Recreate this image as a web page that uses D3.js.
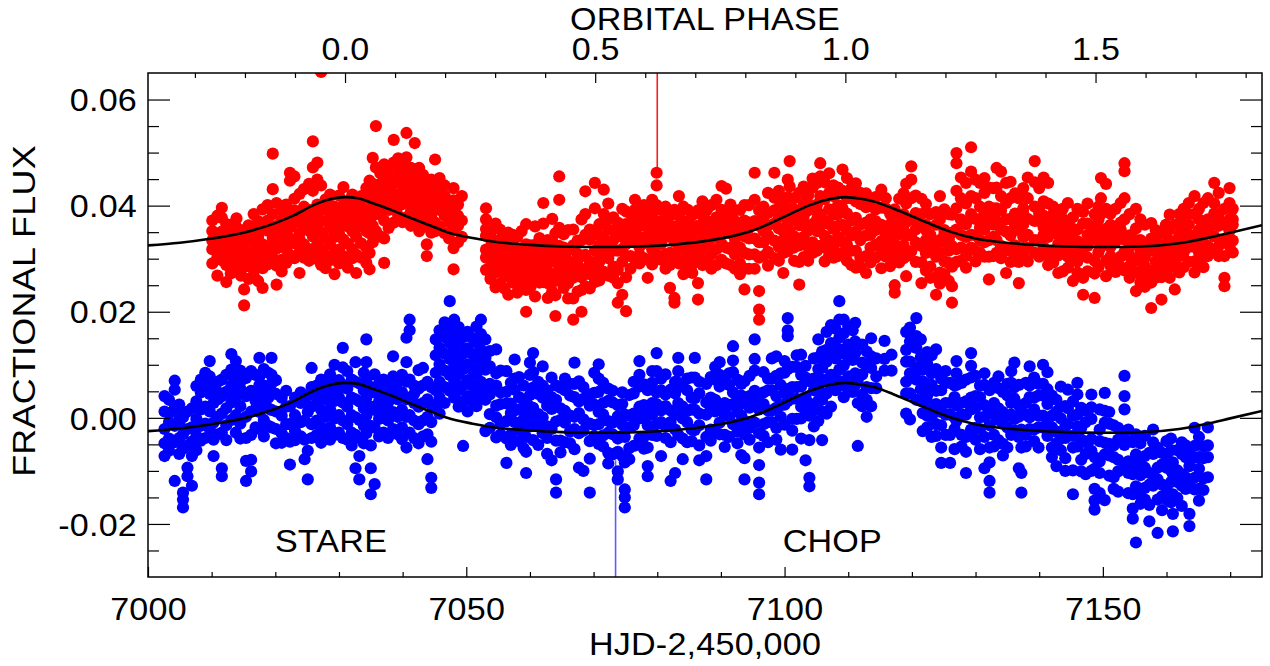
<!DOCTYPE html>
<html><head><meta charset="utf-8">
<script src="https://cdn.jsdelivr.net/npm/d3@7"></script>
<style>
body{margin:0;background:#fff}
svg{display:block}
text{font-family:"Liberation Sans",Arial,Helvetica,sans-serif;font-size:31px;fill:#000;letter-spacing:0.2px}
</style>
</head><body>
<svg id="c" width="1270" height="666"></svg>
<script>
// ---------- axis definitions ----------
const period = 78.6, epoch = 7030.95;
const hjdDomain = [7000, 7175];
const fluxDomain = [-0.03, 0.065];
const hjdMajor = [7000, 7050, 7100, 7150];
const hjdMinor = [7010,7020,7030,7040,7060,7070,7080,7090,7110,7120,7130,7140,7160,7170];
const fluxMajor = [-0.02, 0.00, 0.02, 0.04, 0.06];
const fluxMinor = [-0.025,-0.015,-0.01,-0.005,0.005,0.01,0.015,0.025,0.03,0.035,0.045,0.05,0.055];
const phaseMajor = [0.0, 0.5, 1.0, 1.5];
const phaseMinor = [-0.3,-0.2,-0.1,0.1,0.2,0.3,0.4,0.6,0.7,0.8,0.9,1.1,1.2,1.3,1.4,1.6,1.7,1.8];

// ---------- model curves ----------
const modelHjd = [7000,7005,7010,7015,7020,7023,7026,7028,7031,7033,7035,7038,7041,7044,7047,7051,7055,7059,7065,7071,7077,7083,7088,7092,7095,7098,7101,7104,7107,7109.5,7112,7114,7117,7120,7123,7126,7130,7134,7138,7144,7150,7156,7162,7166,7170,7175];
const modelRed = [.0325,.0330,.0338,.0349,.0367,.0382,.0401,.0410,.0416,.0414,.0406,.0393,.0378,.0364,.0350,.0339,.0331,.0327,.0323,.0322,.0323,.0327,.0334,.0343,.0353,.0368,.0385,.0401,.0412,.0416,.0413,.0408,.0395,.0380,.0365,.0351,.0338,.0331,.0327,.0323,.0322,.0323,.0329,.0338,.0349,.0363];
const modelBlue = [-.0025,-.0020,-.0012,-.0001,.0017,.0032,.0051,.0060,.0066,.0064,.0056,.0043,.0028,.0014,.0000,-.0011,-.0019,-.0023,-.0027,-.0028,-.0027,-.0023,-.0016,-.0007,.0003,.0018,.0035,.0051,.0062,.0066,.0063,.0058,.0045,.0030,.0015,.0001,-.0012,-.0019,-.0023,-.0027,-.0028,-.0027,-.0021,-.0012,-.0001,.0013];

// ---------- vertical markers ----------
const markers = [
  {hjd: 7080.0, lo: 0.046, hi: 0.066, color: "#ff1a1a", w: 1.6},
  {hjd: 7073.45, lo: -0.031, hi: -0.008, color: "#5c5cff", w: 1.6}
];

// ---------- annotations ----------
const labels = [
  {text: "STARE", hjd: 7028.75, flux: -0.0252},
  {text: "CHOP", hjd: 7107.5, flux: -0.0252}
];

// ---------- observations: [HJD, [fluxes in that night]] ----------
const redNights = [
[7010.1,[.0318,.0352,.0291,.0334,.0372]],
[7010.9,[.0302,.0343,.0381,.0318,.0268]],
[7011.6,[.0396,.0377,.0329,.0297,.0351]],
[7012.3,[.0256,.0288,.0322,.0341,.0365,.0307]],
[7013.0,[.0364,.0331,.0298,.0272,.0349]],
[7013.9,[.0376,.0345,.0312,.0281,.0323,.0359]],
[7014.6,[.0293,.0327,.0354,.0268,.0309]],
[7015.1,[.0212,.0242,.0284,.0318,.0347,.0302]],
[7015.8,[.0301,.0262,.0335,.0363,.0289]],
[7016.6,[.0314,.0352,.0384,.0279,.0331,.0268]],
[7017.3,[.0342,.0296,.0371,.0258,.0318]],
[7018.0,[.0245,.0282,.0327,.0361,.0393,.0306]],
[7018.8,[.0353,.0318,.0289,.0372,.0401]],
[7019.6,[.0498,.0431,.0384,.0338,.0301,.0326]],
[7020.2,[.0251,.0287,.0405,.0362,.0319,.0344]],
[7021.0,[.0372,.0334,.0298,.0391,.0353,.0276]],
[7021.7,[.0364,.0402,.0318,.0292,.0341]],
[7022.3,[.0462,.0447,.0382,.0338,.0307,.0359]],
[7023.0,[.0455,.0413,.0368,.0329,.0301,.0391]],
[7023.8,[.0273,.0312,.0348,.0381,.0422,.0336]],
[7024.5,[.0361,.0398,.0327,.0302,.0372,.0431]],
[7025.3,[.0441,.0392,.0353,.0318,.0296,.0371]],
[7025.9,[.0521,.0472,.0428,.0383,.0342,.0308]],
[7026.6,[.0481,.0449,.0402,.0361,.0328,.0299,.0381]],
[7027.2,[.0652,.0438,.0392,.0349,.0317,.0288]],
[7027.9,[.0412,.0371,.0338,.0306,.0282,.0393]],
[7028.6,[.0401,.0358,.0326,.0297,.0379,.0421]],
[7029.3,[.0271,.0309,.0341,.0368,.0398,.0352]],
[7030.0,[.0419,.0382,.0348,.0317,.0291,.0362]],
[7030.7,[.0435,.0401,.0369,.0336,.0305,.0388]],
[7031.4,[.0361,.0328,.0298,.0409,.0378,.0283]],
[7032.1,[.0392,.0352,.0318,.0421,.0371,.0301]],
[7032.7,[.0273,.0308,.0341,.0379,.0412,.0358]],
[7033.5,[.0398,.0362,.0329,.0302,.0418,.0381]],
[7034.3,[.0433,.0391,.0352,.0321,.0292,.0371]],
[7034.8,[.0280,.0311,.0348,.0382,.0413,.0447]],
[7035.3,[.0490,.0441,.0398,.0362,.0331,.0381]],
[7035.8,[.0550,.0472,.0428,.0391,.0352,.0409]],
[7036.5,[.0461,.0421,.0383,.0342,.0441,.0398]],
[7037.1,[.0292,.0338,.0372,.0408,.0449,.0478]],
[7037.8,[.0469,.0432,.0392,.0358,.0411,.0451]],
[7038.6,[.0524,.0481,.0442,.0401,.0368,.0422]],
[7039.3,[.0462,.0418,.0381,.0448,.0489,.0399]],
[7040.0,[.0478,.0442,.0403,.0369,.0428,.0461]],
[7040.6,[.0537,.0491,.0452,.0412,.0378,.0431]],
[7041.3,[.0471,.0428,.0389,.0449,.0408,.0362]],
[7041.9,[.0518,.0469,.0438,.0401,.0368,.0421]],
[7042.6,[.0452,.0411,.0381,.0352,.0432,.0471]],
[7043.2,[.0441,.0402,.0369,.0422,.0458,.0388]],
[7043.8,[.0327,.0305,.0361,.0398,.0431,.0379]],
[7044.5,[.0449,.0412,.0378,.0349,.0428,.0391]],
[7045.1,[.0487,.0438,.0402,.0368,.0421,.0352]],
[7045.8,[.0428,.0392,.0361,.0411,.0452]],
[7046.6,[.0419,.0381,.0348,.0398,.0438]],
[7047.3,[.0408,.0369,.0338,.0391]],
[7048.0,[.0433,.0410,.0386,.0355,.0320,.0280]],
[7048.7,[.0402,.0362,.0331,.0381]],
[7049.3,[.0418,.0372,.0341]],
[7053.1,[.0395,.0374,.0343,.0317,.0279,.0302,.0356]],
[7053.8,[.0348,.0321,.0284,.0262,.0301,.0337]],
[7054.6,[.0366,.0329,.0293,.0274,.0246,.0311]],
[7055.3,[.0336,.0312,.0277,.0253,.0294,.0323,.0355]],
[7056.0,[.0329,.0293,.0266,.0244,.0283,.0314]],
[7056.6,[.0232,.0271,.0305,.0331,.0349,.0286]],
[7057.3,[.0345,.0306,.0272,.0255,.0291,.0325]],
[7058.0,[.0318,.0287,.0264,.0236,.0273,.0309,.0341]],
[7058.7,[.0352,.0314,.0285,.0249,.0298,.0266]],
[7059.4,[.0200,.0241,.0276,.0299,.0327,.0365]],
[7060.1,[.0325,.0302,.0263,.0247,.0284,.0316]],
[7060.8,[.0361,.0326,.0289,.0267,.0229,.0305]],
[7061.5,[.0339,.0304,.0286,.0255,.0292,.0269,.0322]],
[7062.1,[.0405,.0366,.0319,.0293,.0256,.0305]],
[7062.8,[.0335,.0312,.0276,.0254,.0226,.0294]],
[7063.5,[.0375,.0333,.0295,.0271,.0238,.0314]],
[7064.0,[.0192,.0231,.0258,.0296,.0319,.0348]],
[7064.6,[.0455,.0411,.0358,.0324,.0284,.0261,.0305]],
[7065.3,[.0346,.0306,.0268,.0245,.0286,.0321]],
[7066.0,[.0354,.0315,.0278,.0254,.0225,.0296]],
[7066.8,[.0185,.0225,.0264,.0289,.0325,.0355]],
[7067.5,[.0334,.0297,.0274,.0238,.0285,.0309]],
[7068.1,[.0200,.0241,.0265,.0305,.0335,.0374]],
[7068.7,[.0427,.0384,.0345,.0307,.0281,.0248]],
[7069.4,[.0336,.0295,.0271,.0244,.0285,.0355]],
[7070.2,[.0443,.0395,.0351,.0315,.0277,.0256]],
[7070.9,[.0365,.0325,.0294,.0259,.0344,.0305]],
[7071.6,[.0430,.0384,.0339,.0311,.0275,.0365]],
[7072.3,[.0375,.0328,.0301,.0268,.0355,.0404]],
[7073.1,[.0354,.0315,.0285,.0264,.0335,.0378]],
[7073.8,[.0217,.0254,.0279,.0315,.0345,.0368]],
[7074.5,[.0394,.0355,.0318,.0294,.0232,.0341]],
[7075.1,[.0201,.0265,.0305,.0328,.0365,.0389]],
[7075.8,[.0385,.0344,.0305,.0281,.0355]],
[7076.5,[.0411,.0371,.0331,.0298,.0352,.0392]],
[7077.2,[.0362,.0322,.0291,.0341,.0381,.0308]],
[7077.9,[.0401,.0362,.0329,.0301,.0372]],
[7078.5,[.0264,.0298,.0331,.0361,.0392,.0342]],
[7079.2,[.0382,.0348,.0318,.0289,.0362,.0411]],
[7079.9,[.0462,.0438,.0401,.0368,.0338,.0308]],
[7080.6,[.0392,.0358,.0328,.0298,.0371,.0348]],
[7081.3,[.0372,.0341,.0308,.0281,.0352,.0398]],
[7082.0,[.0381,.0342,.0311,.0245,.0288,.0362]],
[7082.7,[.0217,.0226,.0301,.0332,.0361,.0392]],
[7083.4,[.0418,.0381,.0348,.0318,.0291,.0362]],
[7084.1,[.0398,.0361,.0328,.0298,.0271,.0342]],
[7084.8,[.0371,.0338,.0308,.0281,.0352,.0392]],
[7085.5,[.0382,.0348,.0318,.0289,.0273,.0362]],
[7086.4,[.0223,.0254,.0301,.0331,.0362,.0391]],
[7087.1,[.0381,.0348,.0318,.0288,.0361,.0408]],
[7087.8,[.0392,.0358,.0328,.0298,.0341,.0372]],
[7088.5,[.0401,.0368,.0338,.0308,.0281,.0358]],
[7089.3,[.0411,.0378,.0348,.0318,.0288,.0341]],
[7090.1,[.0437,.0392,.0358,.0328,.0298,.0372]],
[7090.8,[.0432,.0388,.0351,.0321,.0291,.0368]],
[7091.5,[.0381,.0348,.0318,.0288,.0361,.0402]],
[7092.2,[.0371,.0338,.0308,.0281,.0328,.0391]],
[7093.0,[.0392,.0352,.0321,.0291,.0362,.0271]],
[7093.7,[.0242,.0281,.0311,.0342,.0372,.0401]],
[7094.4,[.0401,.0368,.0338,.0308,.0281,.0358]],
[7095.3,[.0462,.0411,.0371,.0338,.0308,.0281]],
[7096.0,[.0239,.0204,.0185,.0302,.0331,.0362,.0391]],
[7096.7,[.0398,.0372,.0331,.0305,.0352,.0384]],
[7097.4,[.0424,.0386,.0344,.0313,.0287,.0362]],
[7098.4,[.0462,.0415,.0366,.0334,.0301,.0391]],
[7099.1,[.0396,.0357,.0322,.0296,.0378,.0428]],
[7099.8,[.0389,.0352,.0334,.0273,.0311,.0409]],
[7100.5,[.0449,.0416,.0372,.0343,.0314,.0367]],
[7100.8,[.0484,.0436,.0394,.0352,.0325]],
[7101.5,[.0414,.0374,.0342,.0321,.0296,.0393]],
[7102.3,[.0251,.0294,.0325,.0363,.0387,.0424]],
[7103.0,[.0436,.0404,.0362,.0341,.0303,.0379]],
[7103.7,[.0419,.0391,.0353,.0322,.0296,.0403]],
[7104.4,[.0434,.0396,.0365,.0331,.0311,.0451]],
[7105.1,[.0443,.0402,.0374,.0352,.0315,.0388]],
[7105.6,[.0480,.0455,.0418,.0384,.0361,.0324]],
[7106.3,[.0444,.0412,.0372,.0343,.0321,.0295]],
[7107.0,[.0461,.0424,.0393,.0365,.0334,.0306]],
[7107.7,[.0418,.0383,.0356,.0323,.0302,.0438]],
[7108.4,[.0434,.0401,.0362,.0341,.0305,.0384]],
[7109.1,[.0468,.0428,.0395,.0364,.0332,.0311]],
[7109.8,[.0452,.0414,.0385,.0353,.0326,.0296]],
[7110.5,[.0414,.0372,.0344,.0315,.0288,.0433]],
[7111.2,[.0283,.0315,.0351,.0377,.0408,.0442]],
[7111.9,[.0403,.0364,.0335,.0302,.0284,.0424]],
[7112.8,[.0273,.0305,.0344,.0368,.0397,.0423]],
[7113.5,[.0409,.0374,.0345,.0321,.0293,.0358]],
[7114.3,[.0393,.0354,.0326,.0302,.0371,.0416]],
[7115.2,[.0430,.0396,.0364,.0333,.0312,.0282]],
[7115.9,[.0395,.0355,.0324,.0304,.0346,.0414]],
[7116.6,[.0384,.0343,.0314,.0286,.0365,.0332]],
[7117.3,[.0250,.0236,.0304,.0327,.0356,.0393]],
[7118.0,[.0413,.0375,.0346,.0315,.0293,.0361]],
[7118.7,[.0423,.0384,.0354,.0325,.0301,.0368]],
[7119.1,[.0267,.0305,.0343,.0369,.0404,.0441]],
[7119.9,[.0474,.0449,.0414,.0375,.0345,.0314]],
[7120.6,[.0419,.0386,.0355,.0331,.0294,.0372]],
[7121.5,[.0254,.0293,.0324,.0361,.0384,.0413]],
[7122.2,[.0403,.0364,.0335,.0311,.0278,.0354]],
[7122.9,[.0384,.0345,.0321,.0285,.0264,.0334]],
[7123.8,[.0232,.0265,.0304,.0328,.0364,.0388]],
[7124.4,[.0418,.0374,.0335,.0311,.0274,.0253]],
[7125.1,[.0393,.0354,.0331,.0295,.0271,.0346]],
[7125.8,[.0384,.0345,.0315,.0292,.0258,.0336]],
[7126.3,[.0217,.0248,.0285,.0324,.0349,.0383]],
[7127.0,[.0499,.0480,.0428,.0395,.0355,.0318,.0294]],
[7127.7,[.0453,.0414,.0374,.0345,.0321,.0296]],
[7128.5,[.0443,.0404,.0365,.0341,.0305,.0283]],
[7129.3,[.0510,.0464,.0418,.0384,.0345,.0321]],
[7130.0,[.0449,.0414,.0375,.0344,.0315,.0295]],
[7130.7,[.0443,.0398,.0371,.0335,.0311,.0359]],
[7131.4,[.0424,.0385,.0355,.0331,.0304,.0452]],
[7132.1,[.0261,.0304,.0335,.0371,.0398,.0434]],
[7132.8,[.0433,.0395,.0364,.0341,.0305,.0383]],
[7133.3,[.0471,.0434,.0395,.0371,.0335,.0311]],
[7134.0,[.0464,.0418,.0391,.0355,.0324,.0301]],
[7134.8,[.0443,.0405,.0374,.0351,.0315,.0273]],
[7135.5,[.0445,.0414,.0375,.0344,.0321,.0294]],
[7136.2,[.0423,.0385,.0361,.0325,.0304,.0368]],
[7136.8,[.0254,.0294,.0318,.0354,.0378,.0414]],
[7137.5,[.0433,.0395,.0365,.0341,.0305,.0385]],
[7138.2,[.0453,.0414,.0375,.0345,.0321,.0295]],
[7139.3,[.0484,.0444,.0398,.0371,.0335,.0311]],
[7140.0,[.0433,.0394,.0371,.0335,.0304,.0385]],
[7140.7,[.0453,.0408,.0381,.0345,.0321,.0359]],
[7141.4,[.0443,.0404,.0365,.0341,.0305,.0288]],
[7142.2,[.0384,.0352,.0314,.0293,.0365,.0398]],
[7143.0,[.0273,.0306,.0328,.0367,.0389,.0345]],
[7143.7,[.0375,.0334,.0312,.0276,.0356,.0394]],
[7144.5,[.0405,.0364,.0342,.0304,.0283,.0326]],
[7145.3,[.0258,.0296,.0318,.0356,.0378,.0336]],
[7146.0,[.0394,.0355,.0333,.0295,.0274,.0314]],
[7146.9,[.0232,.0264,.0306,.0328,.0366,.0388]],
[7147.6,[.0404,.0366,.0324,.0302,.0276,.0345]],
[7148.7,[.0226,.0272,.0296,.0336,.0357,.0384]],
[7149.3,[.0398,.0373,.0334,.0312,.0284,.0355]],
[7149.7,[.0452,.0414,.0384,.0344,.0322]],
[7150.5,[.0441,.0394,.0356,.0334,.0296,.0267]],
[7151.2,[.0385,.0344,.0322,.0286,.0304,.0364]],
[7152.0,[.0394,.0354,.0332,.0294,.0275,.0345]],
[7152.8,[.0368,.0343,.0304,.0284,.0355,.0405]],
[7153.4,[.0480,.0465,.0414,.0374,.0336,.0313,.0278]],
[7154.2,[.0384,.0344,.0322,.0286,.0264,.0305]],
[7155.2,[.0239,.0274,.0296,.0335,.0357,.0394]],
[7155.9,[.0374,.0335,.0313,.0276,.0255,.0324]],
[7156.6,[.0364,.0324,.0302,.0266,.0247,.0285]],
[7157.6,[.0207,.0255,.0277,.0315,.0338,.0367]],
[7158.3,[.0354,.0314,.0295,.0264,.0334,.0276]],
[7159.2,[.0223,.0265,.0287,.0325,.0347,.0305]],
[7159.9,[.0364,.0324,.0305,.0274,.0345,.0286]],
[7160.5,[.0383,.0355,.0317,.0295,.0264,.0334]],
[7161.3,[.0242,.0284,.0306,.0327,.0364,.0296]],
[7162.0,[.0364,.0324,.0305,.0274,.0344,.0384]],
[7162.7,[.0374,.0334,.0312,.0284,.0355,.0394]],
[7163.5,[.0384,.0344,.0322,.0294,.0364,.0405]],
[7164.4,[.0418,.0384,.0344,.0322,.0295,.0274]],
[7165.1,[.0394,.0354,.0324,.0312,.0374,.0294]],
[7165.8,[.0405,.0364,.0342,.0304,.0284,.0355]],
[7166.5,[.0414,.0374,.0352,.0324,.0305,.0364]],
[7167.5,[.0443,.0404,.0364,.0342,.0314,.0385]],
[7168.2,[.0424,.0384,.0362,.0324,.0305,.0374]],
[7169.1,[.0264,.0248,.0305,.0334,.0364,.0394]],
[7169.9,[.0433,.0405,.0374,.0352,.0324,.0355]],
[7170.4,[.0394,.0364,.0334,.0312,.0374]]
];

const blueNights = [
[7002.6,[-.0021,.0012,-.0048,.0041,-.0072]],
[7003.3,[.0034,-.0008,-.0039,.0009,-.0062]],
[7004.2,[.0070,.0053,.0018,-.0015,-.0046,-.0119]],
[7004.9,[.0025,-.0009,-.0038,-.0068,.0004]],
[7005.5,[-.0141,-.0154,-.0169,-.0031,.0001,-.0058]],
[7006.2,[.0012,-.0021,-.0052,-.0094,-.0110]],
[7006.9,[-.0018,-.0045,.0018,-.0072,-.0128]],
[7007.6,[.0060,.0031,-.0002,-.0034,-.0061]],
[7008.3,[.0048,.0016,-.0015,-.0043,.0072]],
[7009.0,[.0085,.0052,.0021,-.0011,-.0038]],
[7009.7,[.0107,.0078,.0045,.0012,-.0021,.0061]],
[7010.3,[-.0072,-.0041,-.0009,.0028,.0058]],
[7011.0,[.0068,.0035,.0002,-.0031,.0048]],
[7011.6,[-.0110,-.0095,-.0028,.0008,.0041,.0072]],
[7012.3,[.0081,.0049,.0018,-.0014,-.0042]],
[7013.1,[.0120,.0091,.0061,.0029,-.0004,.0045]],
[7013.8,[.0107,.0072,.0038,.0005,-.0028]],
[7014.5,[.0089,.0055,.0022,-.0011,-.0039,.0068]],
[7015.4,[-.0119,-.0081,-.0038,.0002,.0041,.0075]],
[7016.2,[-.0101,-.0079,-.0032,.0012,.0051,.0088]],
[7016.9,[.0081,.0048,.0016,-.0018,.0032]],
[7017.5,[.0113,.0078,.0045,.0011,-.0021,.0062]],
[7018.2,[.0092,.0061,.0028,-.0004,-.0035]],
[7018.9,[.0085,.0052,.0018,-.0015,.0038]],
[7019.4,[.0113,.0081,.0048,.0015,-.0018,.0065]],
[7020.1,[.0045,.0012,-.0021,-.0048,.0071]],
[7021.0,[.0038,.0004,-.0029,-.0047]],
[7021.7,[.0021,-.0012,-.0038,.0051]],
[7022.3,[-.0088,-.0045,-.0012,.0022]],
[7023.1,[.0038,.0005,-.0025,-.0042]],
[7024.0,[.0028,-.0008,-.0035,.0048]],
[7024.6,[-.0078,-.0041,-.0005,.0031]],
[7025.1,[-.0116,-.0062,.0011,.0042]],
[7025.7,[.0094,.0058,.0021,-.0012,-.0038]],
[7026.5,[.0061,.0028,-.0005,-.0032,.0045]],
[7027.2,[-.0047,-.0018,.0015,.0048,.0072]],
[7027.9,[.0068,.0035,.0002,-.0028,.0052]],
[7028.6,[.0082,.0049,.0016,-.0018,-.0041]],
[7029.3,[.0100,.0065,.0032,-.0001,-.0032]],
[7030.0,[.0071,.0038,.0005,-.0028,.0055]],
[7030.6,[.0132,.0095,.0062,.0029,-.0005,-.0038]],
[7031.3,[.0088,.0055,.0021,-.0012,-.0041]],
[7032.0,[.0072,.0038,.0005,-.0028,-.0052]],
[7032.6,[.0105,.0068,.0035,.0001,-.0032,-.0095]],
[7033.2,[-.0116,-.0072,-.0038,-.0004,.0031,.0065]],
[7033.9,[.0085,.0052,.0018,-.0015,-.0048]],
[7034.3,[.0148,.0105,.0071,.0038,.0004,-.0029]],
[7035.0,[-.0144,-.0095,-.0052,-.0015,.0021,.0058]],
[7035.6,[.0082,.0048,.0015,-.0018,-.0125]],
[7036.3,[.0065,.0031,-.0002,-.0035,.0048]],
[7037.0,[.0072,.0038,.0005,-.0028,.0021]],
[7037.7,[.0061,.0028,-.0005,-.0038,.0045]],
[7038.5,[.0116,.0078,.0045,.0011,-.0021]],
[7039.2,[.0068,.0035,.0002,-.0031,.0052]],
[7039.9,[.0081,.0048,.0015,-.0018,-.0040]],
[7040.6,[.0151,.0105,.0068,.0035,.0002,-.0056]],
[7041.1,[.0185,.0165,.0072,.0038,.0005,-.0028]],
[7041.8,[.0061,.0028,-.0005,-.0038,.0045]],
[7042.5,[.0090,.0055,.0021,-.0012,-.0048]],
[7043.2,[.0094,.0061,.0028,-.0005,-.0035]],
[7043.9,[.0068,.0035,.0002,-.0031,-.0078]],
[7044.5,[-.0113,-.0132,-.0045,-.0008,.0025,.0058]],
[7045.2,[.0148,.0118,.0085,.0052,.0021]],
[7045.8,[.0165,.0132,.0101,.0068,.0038,.0008]],
[7046.6,[.0180,.0152,.0121,.0089,.0058,.0028]],
[7047.4,[.0220,.0171,.0141,.0111,.0081,.0051]],
[7048.1,[.0185,.0158,.0128,.0098,.0068,.0038]],
[7048.8,[.0171,.0141,.0112,.0082,.0052,.0021]],
[7049.5,[-.0053,.0031,.0061,.0092,.0121,.0152]],
[7050.2,[.0162,.0131,.0101,.0071,.0041,.0012]],
[7050.9,[.0151,.0121,.0091,.0061,.0031]],
[7051.6,[.0172,.0142,.0111,.0081,.0051,.0022]],
[7052.3,[.0185,.0158,.0128,.0098,.0068,.0038]],
[7053.0,[.0148,.0113,.0091,.0052,.0034,-.0025]],
[7053.7,[.0126,.0097,.0064,.0044,.0007,-.0019]],
[7054.7,[.0129,.0084,.0061,.0023,.0001,-.0037]],
[7055.4,[.0089,.0048,.0026,-.0011,-.0031]],
[7056.3,[-.0085,-.0039,-.0006,.0027,.0049,.0088]],
[7057.0,[.0066,.0027,.0009,-.0032,-.0051]],
[7057.6,[.0110,.0074,.0053,.0014,-.0008]],
[7058.3,[.0077,.0039,.0016,-.0023,-.0044]],
[7059.0,[.0061,.0034,-.0003,-.0021,-.0057]],
[7059.4,[-.0104,-.0064,-.0036,.0008,.0031]],
[7060.0,[.0104,.0081,.0043,.0021,-.0016]],
[7060.5,[.0122,.0086,.0057,.0019,-.0004,-.0042]],
[7061.3,[.0068,.0045,.0007,-.0014,-.0051]],
[7062.0,[.0097,.0061,.0038,.0001,-.0029]],
[7062.7,[.0023,-.0016,-.0038,.0052,-.0068]],
[7063.4,[.0076,.0039,.0017,-.0021,-.0080]],
[7064.1,[-.0116,-.0141,-.0043,-.0007,.0034,.0061]],
[7064.8,[.0057,.0018,-.0004,-.0043,-.0065]],
[7065.5,[.0074,.0052,.0013,-.0009,-.0046]],
[7066.3,[.0064,.0042,.0004,-.0026,-.0048]],
[7067.0,[.0104,.0064,.0039,.0002,-.0021,-.0059]],
[7067.7,[.0069,.0031,.0009,-.0029,-.0094]],
[7068.4,[.0058,.0036,-.0003,-.0024,-.0100]],
[7069.4,[-.0141,-.0077,-.0044,-.0011,.0023,.0044]],
[7070.1,[.0085,.0047,.0025,-.0014,-.0035]],
[7070.8,[.0101,.0074,.0049,.0011,-.0012,-.0049]],
[7071.5,[.0066,.0028,.0006,-.0033,-.0054]],
[7072.3,[.0055,.0032,-.0006,-.0028,-.0066,-.0086]],
[7073.0,[.0051,.0029,-.0009,-.0031,-.0069]],
[7073.8,[-.0116,-.0101,-.0064,-.0039,.0003,.0024]],
[7074.5,[.0048,.0026,-.0013,-.0034,-.0072]],
[7074.9,[-.0169,-.0150,-.0135,-.0084,-.0036,.0006]],
[7075.6,[.0043,.0004,-.0018,-.0057,-.0078]],
[7076.3,[.0068,.0046,.0008,-.0014,-.0053]],
[7077.2,[.0107,.0081,.0059,.0021,-.0001,-.0039]],
[7077.9,[.0063,.0024,.0002,-.0036,-.0058]],
[7078.5,[-.0110,-.0091,-.0056,-.0014,.0011,.0052]],
[7079.2,[.0088,.0066,.0028,.0006,-.0032]],
[7079.9,[.0122,.0088,.0048,.0026,-.0012,-.0034]],
[7080.6,[.0074,.0052,.0014,-.0008,-.0072]],
[7081.3,[.0082,.0044,.0022,-.0016,-.0038]],
[7082.1,[.0053,.0014,-.0008,-.0046,-.0119]],
[7082.8,[.0068,.0046,.0007,-.0022,-.0104]],
[7083.3,[.0113,.0088,.0066,.0028,.0006,-.0032]],
[7084.0,[.0059,.0021,-.0001,-.0039,-.0078]],
[7084.7,[.0074,.0052,.0013,-.0008,-.0046]],
[7085.4,[.0076,.0038,.0016,-.0022,-.0044]],
[7085.9,[.0113,.0076,.0037,.0015,-.0023]],
[7086.6,[.0068,.0046,.0008,-.0014,-.0052,-.0080]],
[7087.7,[-.0116,-.0072,-.0036,.0006,.0029,.0064]],
[7088.4,[.0077,.0038,.0016,-.0022,-.0043]],
[7089.1,[.0096,.0072,.0034,.0012,-.0026]],
[7089.8,[.0105,.0081,.0059,.0021,-.0009,-.0031]],
[7090.6,[.0066,.0028,.0006,-.0032,-.0055]],
[7091.3,[.0084,.0062,.0024,.0002,-.0036]],
[7091.9,[.0135,.0108,.0086,.0048,.0026,-.0012]],
[7092.6,[.0072,.0034,.0012,-.0026,-.0048]],
[7093.2,[.0064,.0042,.0004,-.0018,-.0070]],
[7093.7,[-.0116,-.0076,-.0031,-.0006,.0027,.0069]],
[7094.5,[.0079,.0041,.0019,-.0019,-.0041]],
[7095.3,[.0148,.0111,.0089,.0051,.0029,-.0009]],
[7096.0,[-.0144,-.0122,-.0089,-.0056,-.0029,.0016,.0044]],
[7096.7,[.0086,.0048,.0026,-.0012,-.0034]],
[7097.4,[.0074,.0052,.0014,-.0008,-.0046]],
[7098.0,[.0112,.0074,.0052,.0014,-.0008]],
[7098.7,[.0116,.0079,.0041,.0019,-.0019,-.0041]],
[7099.4,[.0084,.0062,.0024,.0002,-.0060]],
[7100.0,[.0107,.0085,.0047,.0025,-.0013]],
[7100.5,[.0188,.0165,.0154,.0092,.0054,.0032]],
[7101.2,[.0096,.0058,.0036,-.0002,-.0024,-.0060]],
[7101.9,[.0118,.0096,.0058,.0036,-.0002]],
[7102.6,[.0119,.0081,.0059,.0021,-.0001,-.0039]],
[7103.3,[.0098,.0076,.0038,.0016,-.0080]],
[7103.9,[-.0113,-.0129,-.0042,.0004,.0027,.0069]],
[7104.6,[.0112,.0074,.0052,.0014,-.0016]],
[7105.3,[.0148,.0114,.0092,.0054,.0032,-.0006]],
[7105.9,[.0125,.0094,.0072,.0034,.0012,-.0042]],
[7106.6,[.0162,.0128,.0106,.0068,.0046,.0008]],
[7107.3,[.0175,.0141,.0119,.0081,.0059,.0021]],
[7108.0,[.0168,.0134,.0112,.0074,.0052]],
[7108.6,[.0220,.0185,.0151,.0129,.0091,.0069]],
[7109.3,[.0185,.0159,.0121,.0099,.0061,.0039]],
[7110.0,[.0172,.0138,.0116,.0078,.0056]],
[7110.7,[.0165,.0131,.0109,.0071,.0049]],
[7111.1,[.0179,.0144,.0122,.0084,.0062]],
[7111.5,[-.0053,.0028,.0072]],
[7112.2,[.0138,.0104,.0082,.0044,.0022]],
[7112.9,[.0125,.0099,.0058,.0034,.0002]],
[7113.6,[.0150,.0116,.0094,.0056,.0022]],
[7114.4,[.0112,.0078,.0056]],
[7115.7,[.0145,.0111,.0089]],
[7116.8,[.0119,.0089]],
[7119.1,[.0162,.0128,.0106,.0068,.0046,.0008]],
[7119.7,[.0170,.0144,.0106,.0084,.0046,-.0003]],
[7120.7,[.0188,.0154,.0132,.0094,.0072,.0034]],
[7121.4,[.0148,.0114,.0092,.0054,.0032]],
[7121.7,[-.0025,.0009,.0031,.0069,.0091]],
[7122.4,[.0124,.0102,.0064,.0042,.0004,-.0018]],
[7123.1,[.0118,.0084,.0062,.0024,.0002,-.0036]],
[7123.8,[.0129,.0092,.0051,.0026,-.0012,-.0034]],
[7124.6,[-.0085,-.0056,-.0014,.0011,.0052,.0074]],
[7125.3,[.0088,.0066,.0028,.0006,-.0032]],
[7126.0,[.0066,.0028,.0006,-.0032,-.0085]],
[7126.7,[.0061,.0039,.0001,-.0021,-.0059]],
[7127.0,[.0107,.0084,.0062,.0024,-.0006]],
[7127.8,[.0066,.0028,.0006,-.0032,-.0054]],
[7128.5,[-.0104,-.0064,-.0036,.0006,.0031,.0072]],
[7129.3,[.0122,.0098,.0076,.0038,.0016,-.0022]],
[7130.0,[.0079,.0041,.0019,-.0019,-.0041]],
[7130.7,[.0061,.0039,.0001,-.0021,-.0059]],
[7131.4,[.0084,.0062,.0024,.0002,-.0036,-.0095]],
[7132.2,[-.0141,-.0119,-.0084,-.0056,-.0014,.0011,.0052]],
[7132.9,[.0066,.0028,.0006,-.0032,-.0054]],
[7133.6,[.0078,.0056,.0018,-.0004,-.0042]],
[7134.3,[.0049,.0011,-.0011,-.0049,-.0071]],
[7135.0,[.0064,.0042,.0004,-.0018,-.0056]],
[7135.6,[.0088,.0066,.0028,.0006,-.0032]],
[7136.1,[.0104,.0058,.0036,-.0002,-.0024]],
[7136.8,[.0062,.0024,.0002,-.0036,-.0095]],
[7137.2,[-.0141,-.0104,-.0056,-.0022,.0011]],
[7137.9,[.0066,.0028,.0006,-.0032,-.0054]],
[7138.5,[.0097,.0061,.0039,.0001,-.0021]],
[7139.2,[.0076,.0038,.0016,-.0022,-.0044]],
[7139.9,[.0064,.0042,.0004,-.0018,-.0056]],
[7140.6,[.0100,.0064,.0042,.0004,-.0018]],
[7141.3,[.0086,.0054,.0026,-.0006,-.0034]],
[7142.0,[.0042,.0004,-.0018,-.0056,-.0074]],
[7142.7,[.0034,.0012,-.0026,-.0048,-.0091]],
[7143.4,[.0059,.0021,-.0001,-.0039,-.0061]],
[7144.1,[.0022,-.0016,-.0038,-.0076,-.0100]],
[7144.5,[.0053,.0018,-.0012,-.0034]],
[7145.3,[-.0144,-.0099,-.0056,-.0034,.0004,.0031]],
[7146.0,[.0066,.0044,.0006,-.0016,-.0054]],
[7146.6,[.0019,-.0019,-.0041,-.0079,-.0101]],
[7147.3,[.0014,-.0008,-.0046,-.0068,-.0106]],
[7148.2,[.0044,.0020,-.0002,-.0040,-.0062,-.0100]],
[7148.7,[-.0173,-.0156,-.0134,-.0096,-.0074]],
[7149.5,[.0016,-.0022,-.0044,-.0082,-.0104,-.0142]],
[7150.3,[.0047,.0013,-.0009,-.0047,-.0069,-.0155]],
[7151.0,[.0011,-.0011,-.0049,-.0071,-.0109]],
[7151.7,[-.0014,-.0052,-.0074,-.0112,-.0134]],
[7152.4,[-.0019,-.0041,-.0079,-.0101,-.0139]],
[7153.4,[.0079,.0041,.0016,-.0026,-.0051,-.0092]],
[7154.0,[-.0022,-.0044,-.0082,-.0104,-.0142]],
[7154.7,[-.0190,-.0171,-.0144,-.0106,-.0084,-.0046]],
[7155.2,[-.0235,-.0129,-.0091,-.0069,-.0031]],
[7155.9,[-.0048,-.0086,-.0108,-.0146,-.0162]],
[7156.6,[-.0034,-.0072,-.0094,-.0132,-.0154]],
[7157.3,[-.0195,-.0164,-.0126,-.0104,-.0066]],
[7157.9,[-.0022,-.0046,-.0068,-.0106,-.0128]],
[7158.6,[-.0217,-.0154,-.0116,-.0094,-.0056]],
[7159.3,[-.0066,-.0088,-.0126,-.0148,-.0174]],
[7160.0,[-.0044,-.0072,-.0094,-.0132,-.0154]],
[7160.7,[-.0039,-.0061,-.0099,-.0121,-.0159]],
[7161.0,[-.0214,-.0181,-.0144,-.0106,-.0084]],
[7161.7,[-.0061,-.0099,-.0121,-.0151]],
[7162.4,[-.0046,-.0068,-.0106,-.0128,-.0166]],
[7163.0,[-.0052,-.0074,-.0112,-.0134]],
[7163.6,[-.0204,-.0181,-.0129,-.0091,-.0069]],
[7164.4,[-.0019,-.0053,-.0075,-.0113,-.0135]],
[7165.1,[-.0036,-.0074,-.0096,-.0134,-.0156]],
[7165.8,[-.0054,-.0076,-.0114,-.0136]],
[7166.5,[-.0018,-.0052,-.0074,-.0112]]
];

// ---------- drawing ----------
const svg = d3.select("#c");
const m = {l: 148, r: 1262, t: 73, b: 577};
const x = d3.scaleLinear().domain(hjdDomain).range([m.l, m.r]);
const y = d3.scaleLinear().domain(fluxDomain).range([m.b, m.t]);
const xp = d3.scaleLinear().domain(hjdDomain.map(h => (h - epoch) / period)).range([m.l, m.r]);

svg.append("defs").append("clipPath").attr("id", "clip")
  .append("rect").attr("x", m.l).attr("y", m.t).attr("width", m.r - m.l).attr("height", m.b - m.t);
const plot = svg.append("g").attr("clip-path", "url(#clip)");

plot.selectAll("line.mk").data(markers).join("line").attr("class", "mk")
  .attr("x1", d => x(d.hjd)).attr("x2", d => x(d.hjd))
  .attr("y1", d => y(d.lo)).attr("y2", d => y(d.hi))
  .attr("stroke", d => d.color).attr("stroke-width", d => d.w);

const flat = nights => nights.flatMap(([t, fs]) => fs.map(f => ({t, f})));
plot.append("g").selectAll("circle").data(flat(redNights)).join("circle")
  .attr("cx", d => x(d.t)).attr("cy", d => y(d.f)).attr("r", 6.1).attr("fill", "#ff0000");
plot.append("g").selectAll("circle").data(flat(blueNights)).join("circle")
  .attr("cx", d => x(d.t)).attr("cy", d => y(d.f)).attr("r", 6.1).attr("fill", "#0000ff");

const line = d3.line().x(d => x(d[0])).y(d => y(d[1])).curve(d3.curveMonotoneX);
[modelRed, modelBlue].forEach(vals => {
  plot.append("path").datum(d3.zip(modelHjd, vals)).attr("d", line)
    .attr("fill", "none").attr("stroke", "#000").attr("stroke-width", 2.6);
});

// axes
function style(g) {
  g.attr("font-size", null).attr("font-family", null);
  g.select(".domain").remove();
  g.selectAll(".tick line").attr("stroke", "#000").attr("stroke-width", 1.2);
}
const S = "scale(1.1,1)";
svg.append("g").attr("transform", `translate(${m.l},0)`)
  .call(d3.axisLeft(y).tickValues(fluxMinor).tickSize(-11).tickFormat("")).call(style);
svg.append("g").attr("transform", `translate(${m.l},0)`)
  .call(d3.axisLeft(y).tickValues(fluxMajor).tickSize(-22).tickFormat(d => d.toFixed(2))).call(style)
  .selectAll("text").attr("x", null).attr("dy", "0.36em").attr("transform", `translate(-11,0) ${S}`);
svg.append("g").attr("transform", `translate(${m.r},0)`)
  .call(d3.axisRight(y).tickValues(fluxMinor).tickSize(-11).tickFormat("")).call(style);
svg.append("g").attr("transform", `translate(${m.r},0)`)
  .call(d3.axisRight(y).tickValues(fluxMajor).tickSize(-22).tickFormat("")).call(style);
svg.append("g").attr("transform", `translate(0,${m.b})`)
  .call(d3.axisBottom(x).tickValues(hjdMinor).tickSize(-5).tickFormat("")).call(style);
svg.append("g").attr("transform", `translate(0,${m.b})`)
  .call(d3.axisBottom(x).tickValues(hjdMajor).tickSize(-10).tickFormat(d3.format("d"))).call(style)
  .selectAll("text").attr("y", null).attr("dy", null).attr("transform", `translate(0,43) ${S}`);
svg.append("g").attr("transform", `translate(0,${m.t})`)
  .call(d3.axisTop(xp).tickValues(phaseMinor).tickSize(-5).tickFormat("")).call(style);
svg.append("g").attr("transform", `translate(0,${m.t})`)
  .call(d3.axisTop(xp).tickValues(phaseMajor).tickSize(-10).tickFormat(d => d.toFixed(1))).call(style)
  .selectAll("text").attr("y", null).attr("dy", null).attr("transform", `translate(0,-13) ${S}`);

svg.append("rect").attr("x", m.l).attr("y", m.t).attr("width", m.r - m.l).attr("height", m.b - m.t)
  .attr("fill", "none").attr("stroke", "#000").attr("stroke-width", 1.5);

const cx = (m.l + m.r) / 2;
svg.append("text").attr("text-anchor", "middle").attr("transform", `translate(${cx},30) ${S}`).text("ORBITAL PHASE");
svg.append("text").attr("text-anchor", "middle").attr("transform", `translate(${cx},655) ${S}`).text("HJD-2,450,000");
svg.append("text").attr("text-anchor", "middle").attr("transform", `translate(35,311) rotate(-90) scale(1.16,1)`).text("FRACTIONAL FLUX");

svg.selectAll("text.lab").data(labels).join("text").attr("class", "lab").attr("text-anchor", "middle")
  .attr("transform", d => `translate(${x(d.hjd)},${y(d.flux)}) ${S}`).text(d => d.text);
</script>
</body></html>
